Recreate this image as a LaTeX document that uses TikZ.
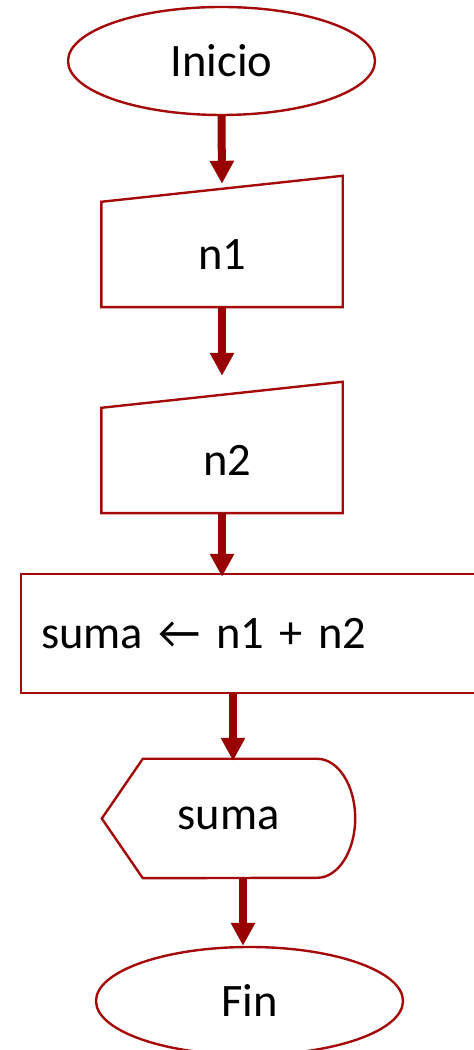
\documentclass[tikz,border=0pt]{standalone}
\usepackage{fontspec}
\setmainfont{Carlito}
\usetikzlibrary{positioning,arrows.meta,shapes.geometric,calc}
\definecolor{flowred}{RGB}{165,10,10}
\definecolor{arrowred}{RGB}{153,0,0}

\begin{document}
\begin{tikzpicture}[x=1pt, y=1pt, font=\fontsize{46.5}{52}\selectfont,
  outline/.style={draw=flowred, line width=2.4pt},
  terminal/.style={ellipse, outline, minimum width=307pt, minimum height=108pt, inner sep=0pt},
  inbox/.style={minimum width=241pt, minimum height=105pt, inner sep=0pt},
  procbox/.style={rectangle, outline, minimum height=119pt, inner sep=0pt, inner xsep=20pt, text width=430pt, align=left},
  outbox/.style={minimum width=253pt, minimum height=119pt, inner sep=0pt},
  flow/.style={-{Triangle[length=23pt, width=23pt]}, line width=8pt, arrowred}]
\useasboundingbox (0,0) rectangle (474,1050);

% start
\node[terminal] (ini) at (221.5,989) {Inicio};

% the two reads (manual input, slanted top)
\node[inbox] (n1) at (222,795.5) {n1};
\draw[outline] (n1.north west) -- (n1.south west) -- (n1.south east)
  -- ($(n1.north east)+(0,26)$) -- cycle;
\node[inbox] (n2) at (222,589.5) {\hspace*{11pt}n2};
\draw[outline] (n2.north west) -- (n2.south west) -- (n2.south east)
  -- ($(n2.north east)+(0,26)$) -- cycle;

% process
\node[procbox, anchor=west] (suma) at (20,416.5) {suma ← n1 + n2};

% display
\node[outbox] (out) at (228.5,231.5) {suma};
\draw[outline] (out.west) -- ($(out.north west)+(41,0)$) -- ($(out.north east)+(-38,0)$)
  arc[start angle=90, end angle=-90, x radius=38pt, y radius=59.5pt]
  -- ($(out.south west)+(41,0)$) -- cycle;

% end
\node[terminal] (fin) at (249.5,49) {Fin};

% connectors
\coordinate (o3) at ($(n2.south |- suma.north)+(0,-4)$);
\coordinate (o4) at ($(out.north)+(4.5,-2)$);
\coordinate (o5) at ($(fin.north)+(-6.5,0)$);
\draw[flow] (ini.south) -- ($(n1.north)+(0,18)$);
\draw[flow] (n1.south) -- ($(n2.north)+(0,32)$);
\draw[flow] (n2.south) -- (o3);
\draw[flow] (o4 |- suma.south) -- (o4);
\draw[flow] (o5 |- out.south) -- (o5);
\end{tikzpicture}
\end{document}
